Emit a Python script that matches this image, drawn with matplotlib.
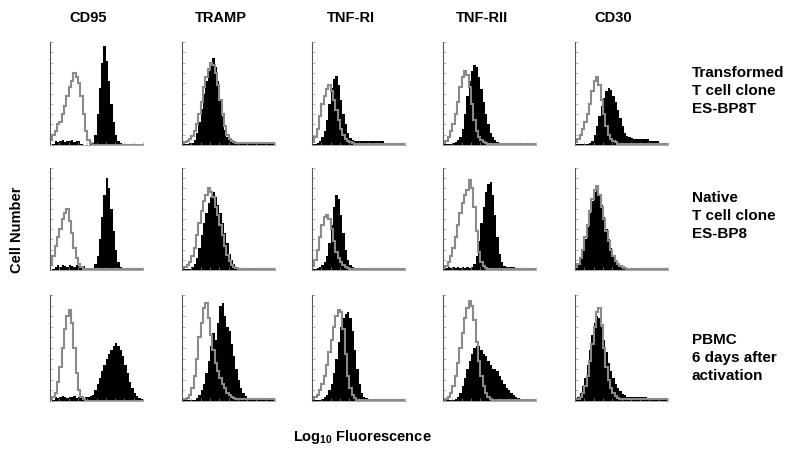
import numpy as np
import matplotlib
matplotlib.use("Agg")
import matplotlib.pyplot as plt

plt.rcParams["font.family"] = ["Liberation Sans", "DejaVu Sans"]
plt.rcParams["mathtext.fontset"] = "custom"
plt.rcParams["mathtext.rm"] = "Liberation Sans"
plt.rcParams["mathtext.bf"] = "Liberation Sans:bold"

# marker names (columns) and cell types (rows)
markers = ["CD95", "TRAMP", "TNF-RI", "TNF-RII", "CD30"]
cell_labels = ["Transformed\nT cell clone\nES-BP8T",
               "Native\nT cell clone\nES-BP8",
               "PBMC\n6 days after\nactivation"]

NBINS = 40

# bin heights (% of axis height), 40 bins over the log fluorescence axis
# control = grey outline, stain = black filled
ctrl = [
    # row 1
    [5, 10, 14, 20, 22, 30, 38, 48, 56, 62, 70, 66, 60, 48, 30, 14, 5, 2] + [0] * 22,
    [2, 3, 4, 6, 9, 14, 20, 30, 42, 56, 66, 74, 80, 78, 70, 58, 44, 30, 18, 10, 6, 4, 3] + [2] * 17,
    [3, 8, 16, 28, 40, 48, 54, 58, 52, 44, 34, 24, 16, 10, 6, 4, 3, 2] + [1] * 22,
    [2, 4, 8, 14, 20, 30, 42, 56, 66, 72, 68, 56, 40, 24, 14, 8, 5, 3, 2] + [1] * 21,
    [3, 6, 10, 16, 22, 30, 40, 52, 62, 66, 58, 44, 30, 18, 10, 6, 4, 3] + [1] * 22,
    # row 2
    [5, 14, 24, 32, 40, 50, 56, 60, 48, 36, 22, 12, 6, 3] + [1] * 26,
    [2, 3, 5, 8, 14, 22, 34, 46, 58, 68, 74, 80, 76, 72, 62, 54, 44, 34, 24, 15, 9, 5, 3, 2] + [1] * 16,
    [4, 10, 20, 32, 44, 52, 54, 50, 40, 28, 18, 12, 8, 5, 3, 2] + [1] * 24,
    [2, 4, 8, 14, 22, 32, 44, 56, 66, 74, 78, 88, 80, 62, 38, 18, 8, 4, 2] + [1] * 21,
    [3, 6, 12, 20, 32, 44, 58, 70, 78, 82, 74, 62, 50, 38, 28, 20, 14, 9, 6, 4, 3, 2] + [1] * 18,
    # row 3
    [2, 4, 8, 18, 32, 50, 68, 80, 86, 74, 50, 26, 10, 4, 2] + [0] * 25,
    [2, 2, 3, 6, 12, 24, 40, 60, 74, 88, 92, 78, 62, 48, 36, 28, 22, 16, 12, 8, 6, 4, 3] + [2] * 17,
    [2, 4, 6, 10, 16, 24, 34, 46, 58, 70, 80, 86, 84, 68, 44, 24, 12, 6, 3] + [1] * 21,
    [1, 2, 4, 8, 14, 24, 36, 50, 64, 78, 88, 94, 90, 76, 56, 38, 24, 14, 8, 4, 2] + [1] * 19,
    [2, 2, 4, 8, 14, 24, 38, 54, 70, 84, 88, 72, 50, 32, 20, 12, 8, 5, 3] + [2] * 21,
]

stain = [
    # row 1
    [0, 1, 4, 3, 4, 5, 3, 4, 4, 5, 3, 4, 4, 1, 0, 0, 0, 1, 2, 10, 30, 55, 80, 96, 82, 62, 40, 22, 10, 4, 2] + [1] * 9,
    [1, 1, 1, 2, 2, 5, 12, 22, 35, 50, 62, 72, 80, 84, 76, 62, 45, 28, 15, 8, 5, 3] + [2] * 18,
    [1, 1, 2, 4, 8, 14, 24, 40, 55, 64, 67, 58, 44, 30, 20, 12, 7, 5] + [4] * 13 + [1] * 9,
    [1, 1, 1, 1, 2, 3, 5, 8, 16, 30, 48, 62, 72, 78, 76, 66, 54, 42, 30, 20, 12, 8, 5, 3, 2] + [1] * 15,
    [1, 1, 1, 1, 1, 1, 2, 4, 10, 18, 28, 38, 46, 52, 55, 53, 48, 42, 34, 26, 18, 12, 9, 8, 7,
     6, 6, 6, 6, 6, 6, 6, 4, 4, 4, 4, 1, 1, 1, 1],
    # row 2
    [0, 1, 3, 5, 3, 5, 4, 3, 5, 4, 3, 5, 4, 3, 4, 1, 0, 0, 2, 6, 14, 30, 52, 74, 90, 80, 60, 38, 20, 8, 3] + [0] * 9,
    [1, 1, 1, 1, 3, 6, 12, 22, 34, 46, 56, 66, 72, 76, 72, 64, 56, 46, 36, 26, 16, 10, 6, 3, 2] + [1] * 15,
    [1, 1, 2, 3, 5, 8, 14, 26, 44, 62, 74, 70, 54, 36, 20, 10, 5, 3, 2, 2, 2, 2, 2, 2, 2] + [1] * 15,
    [2, 2, 3, 2, 3, 2, 3, 2, 3, 2, 3, 2, 3, 6, 14, 28, 46, 62, 76, 84, 86, 74, 54, 32, 16, 8, 4, 3, 3, 3, 3] + [1] * 9,
    [3, 6, 12, 20, 30, 42, 56, 68, 76, 80, 74, 64, 52, 40, 30, 22, 15, 10, 7, 5, 3, 3, 2] + [1] * 17,
    # row 3
    [0, 1, 4, 3, 4, 5, 4, 3, 4, 4, 5, 3, 4, 4, 3, 4, 4, 5, 6, 10, 16, 22, 28, 34, 40, 44, 48, 52, 55, 52,
     48, 42, 34, 26, 18, 12, 8, 5, 3, 2],
    [1, 1, 1, 1, 1, 1, 3, 6, 10, 16, 26, 38, 52, 64, 58, 74, 90, 92, 80, 70, 66, 54, 42, 30, 20, 12, 8, 5, 3] + [2] * 11,
    [1, 1, 1, 1, 2, 4, 6, 10, 16, 26, 40, 56, 70, 78, 82, 84, 78, 66, 48, 30, 16, 8, 4, 3] + [2] * 16,
    [1, 1, 1, 1, 1, 2, 4, 8, 14, 22, 30, 38, 44, 50, 52, 52, 48, 44, 42, 38, 34, 30, 30, 28, 24, 20, 16, 12, 10,
     8, 6, 4, 3, 2, 1, 1, 1, 1, 1, 1],
    [2, 4, 8, 14, 22, 34, 48, 62, 74, 80, 78, 70, 58, 46, 36, 28, 22, 16, 12, 9, 7, 6] + [4] * 9 + [2] * 9,
]

col_left = [50, 182, 312, 443, 575]
row_top = [42, 168, 295]
row_base = [145, 270, 401]
W, H = 793, 459
ax_w = 93

fig = plt.figure(figsize=(W / 100, H / 100), dpi=100)
edges = np.linspace(0, 1, NBINS + 1)

for r in range(3):
    for c in range(5):
        k = r * 5 + c
        ax = fig.add_axes([col_left[c] / W, 1 - row_base[r] / H,
                           ax_w / W, (row_base[r] - row_top[r]) / H])
        s = np.array(stain[k], dtype=float)
        g = np.array(ctrl[k], dtype=float)
        ax.stairs(s, edges, fill=True, color="black")
        ax.stairs(g, edges, color="#8a8a8a", lw=1.5)
        ax.set_xlim(0, 1)
        ax.set_ylim(0, 100)
        for sp in ["top", "right"]:
            ax.spines[sp].set_visible(False)
        ax.spines["left"].set_color("#555555")
        ax.spines["bottom"].set_color("#999999")
        ax.spines["left"].set_linewidth(0.8)
        ax.spines["bottom"].set_linewidth(0.6)
        ax.set_yticks(np.arange(0, 101, 10))
        ax.set_xticks(np.arange(0, 1.01, 0.1))
        ax.tick_params(direction="in", length=2, width=0.5, colors="#999999",
                       labelleft=False, labelbottom=False)
        if r == 0:
            fig.text((col_left[c] + ax_w / 2 - 8) / W, 1 - 18 / H, markers[c],
                     ha="center", va="center", fontsize=10.5, fontweight="bold")

label_y = [91, 216, 358]
for r in range(3):
    fig.text(692 / W, 1 - label_y[r] / H, cell_labels[r], ha="left", va="center",
             fontsize=11, fontweight="bold", linespacing=1.35)

fig.text(17 / W, 1 - 230 / H, "Cell Number", rotation=90, ha="center", va="center",
         fontsize=10.5, fontweight="bold")
fig.text(362 / W, 1 - 437 / H, r"Log$_\mathbf{10}$ Fluorescence", ha="center", va="center",
         fontsize=10.5, fontweight="bold")

fig.savefig("out.png", dpi=100)
